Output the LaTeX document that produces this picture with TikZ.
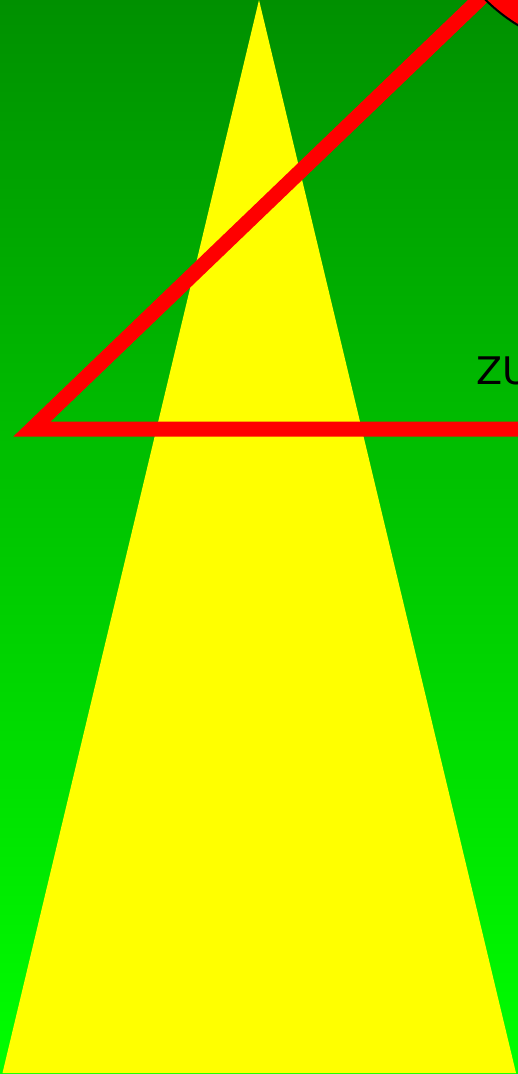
\documentclass[tikz,border=0pt]{standalone}
\usepackage{fontspec}
\setmainfont{DejaVu Sans}

\begin{document}
\begin{tikzpicture}[
  x=1pt, y=-1pt,
  beam/.style={fill={rgb,255:red,255;green,255;blue,0}},
  wedge/.style={draw={rgb,255:red,255;green,0;blue,0}, line width=15pt, miter limit=10, line join=miter},
  disc/.style={fill={rgb,255:red,255;green,0;blue,0}, draw=black, line width=2pt},
  sign/.style={font=\fontsize{38}{40}\selectfont, anchor=base west, inner sep=0pt}
]
\useasboundingbox (0,0) rectangle (518,1074);
\clip (0,0) rectangle (518,1074);

% ground
\shade[top color={rgb,255:red,0;green,144;blue,0}, bottom color={rgb,255:red,0;green,255;blue,0}]
  (0,0) rectangle (518,1074);

% light beam
\path[beam] (259,0) -- (2.5,1073) -- (516,1073) -- cycle;

% red triangle and disc
\coordinate (corner) at (32,429);
\coordinate (top) at (610,-126);
\coordinate (far) at (900,429);
\draw[wedge] (corner) -- (top) -- (far) -- cycle;
\path[disc] (top) circle[radius=177];

\node[sign] (zu) at (476,384) {ZU};
\end{tikzpicture}
\end{document}
